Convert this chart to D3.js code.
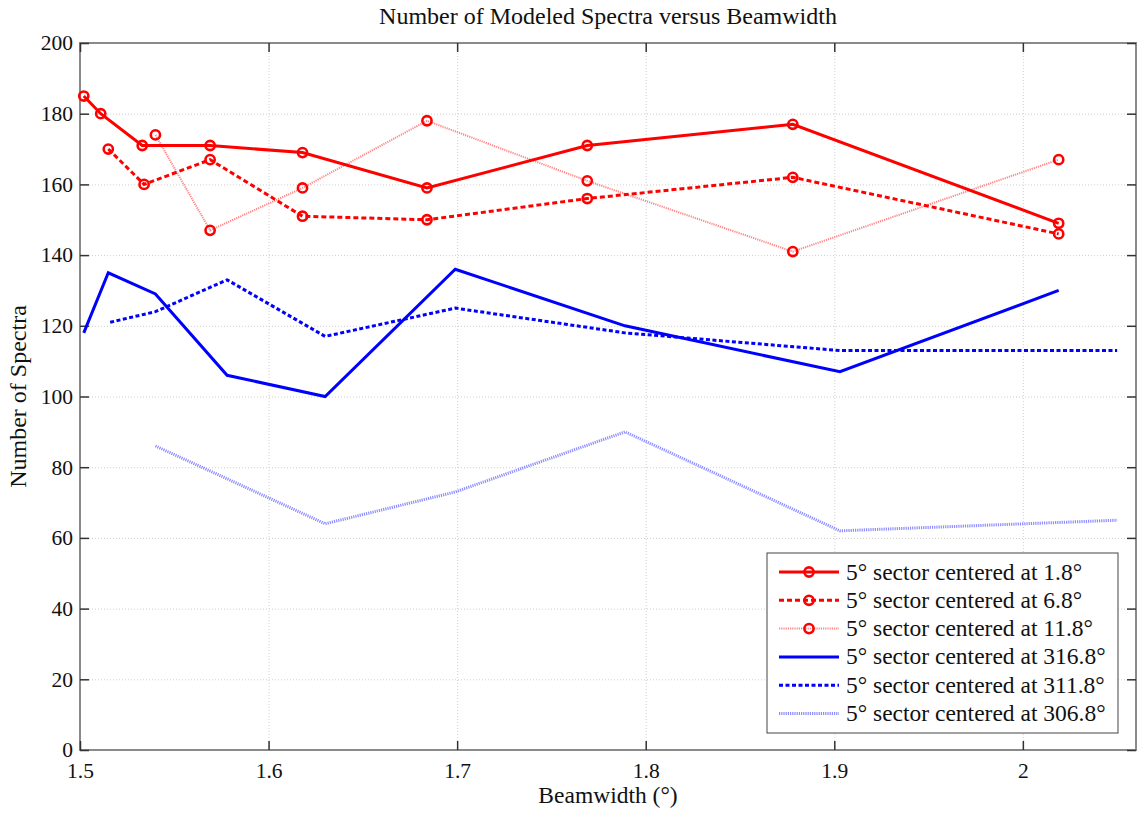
<!DOCTYPE html>
<html>
<head>
<meta charset="utf-8">
<script src="https://cdn.jsdelivr.net/npm/d3@7"></script>
<style>
  html, body { margin: 0; padding: 0; background: #fff; }
  svg { display: block; }
</style>
</head>
<body>
<svg id="chart" width="1141" height="813"></svg>
<script>
// Beamwidth (degrees) at which each sector was modeled, and the spectra counts
const bw_1_8   = [1.502, 1.511, 1.533, 1.569, 1.618, 1.684, 1.769, 1.878, 2.019];
const n_1_8    = [185, 180, 171, 171, 169, 159, 171, 177, 149];

const bw_6_8   = [1.515, 1.534, 1.569, 1.618, 1.684, 1.769, 1.878, 2.019];
const n_6_8    = [170, 160, 167, 151, 150, 156, 162, 146];

const bw_11_8  = [1.540, 1.569, 1.618, 1.684, 1.769, 1.878, 2.019];
const n_11_8   = [174, 147, 159, 178, 161, 141, 167];

const bw_316_8 = [1.502, 1.515, 1.540, 1.578, 1.630, 1.699, 1.789, 1.903, 2.019];
const n_316_8  = [118, 135, 129, 106, 100, 136, 120, 107, 130];

const bw_311_8 = [1.516, 1.540, 1.578, 1.630, 1.699, 1.789, 1.903, 2.050];
const n_311_8  = [121, 124, 133, 117, 125, 118, 113, 113];

const bw_306_8 = [1.540, 1.630, 1.699, 1.789, 1.903, 2.050];
const n_306_8  = [86, 64, 73, 90, 62, 65];

const seriesNames = [
  "5° sector centered at 1.8°",
  "5° sector centered at 6.8°",
  "5° sector centered at 11.8°",
  "5° sector centered at 316.8°",
  "5° sector centered at 311.8°",
  "5° sector centered at 306.8°"
];

const xTicks = [1.5, 1.6, 1.7, 1.8, 1.9, 2];
const yTicks = [0, 20, 40, 60, 80, 100, 120, 140, 160, 180, 200];

const FONT = "'Liberation Serif', 'Times New Roman', serif";

// Line appearance for each series
const styles = [
  { color: "#ff0000", width: 3,   dash: null,      marker: true },
  { color: "#ff0000", width: 3,   dash: "5,3",     marker: true },
  { color: "#ff8585", width: 2,   dash: "1.2,1",   marker: true },
  { color: "#0000ff", width: 3,   dash: null,      marker: false },
  { color: "#0000ff", width: 3,   dash: "4,2.5",   marker: false },
  { color: "#8c8cff", width: 3,   dash: "1.2,1",   marker: false }
];

const series = [
  [bw_1_8, n_1_8], [bw_6_8, n_6_8], [bw_11_8, n_11_8],
  [bw_316_8, n_316_8], [bw_311_8, n_311_8], [bw_306_8, n_306_8]
].map(([xs, ys], i) => ({
  name: seriesNames[i],
  style: styles[i],
  points: xs.map((x, j) => ({ x, y: ys[j] }))
}));

const svg = d3.select("#chart");
const L = 80, R = 1136, T = 43, B = 750;
const W = R - L, H = B - T;

const x = d3.scaleLinear().domain([1.5, 2.06]).range([L, R]);
const y = d3.scaleLinear().domain([0, 200]).range([B, T]);

// Dotted grid
const grid = svg.append("g");
grid.append("g").attr("transform", `translate(0,${B})`)
  .call(d3.axisBottom(x).tickValues(xTicks).tickSize(-H).tickFormat(""))
  .call(g => g.select(".domain").remove());
grid.append("g").attr("transform", `translate(${L},0)`)
  .call(d3.axisLeft(y).tickValues(yTicks).tickSize(-W).tickFormat(""))
  .call(g => g.select(".domain").remove());
grid.selectAll("line")
  .attr("stroke", "#cfcfcf").attr("stroke-width", 1).attr("stroke-dasharray", "1,2");

// Frame
svg.append("rect").attr("x", L).attr("y", T).attr("width", W).attr("height", H)
  .attr("fill", "none").attr("stroke", "#8a8a8a").attr("stroke-width", 2);

// Inward ticks on all four sides, labels on bottom and left
const tickLen = 9;
const styleAxis = g => {
  g.attr("font-family", null).attr("font-size", null);
  g.select(".domain").remove();
  g.selectAll(".tick line").attr("stroke", "#333").attr("stroke-width", 1.5);
  g.selectAll(".tick text").style("font-family", FONT)
    .style("font-size", "21.5px").attr("fill", "#111");
};
svg.append("g").attr("transform", `translate(0,${B})`)
  .call(d3.axisBottom(x).tickValues(xTicks).tickSizeInner(-tickLen).tickSizeOuter(0)
    .tickPadding(13).tickFormat(d3.format("~g")))
  .call(styleAxis);
svg.append("g").attr("transform", `translate(0,${T})`)
  .call(d3.axisTop(x).tickValues(xTicks).tickSizeInner(-tickLen).tickSizeOuter(0).tickFormat(""))
  .call(styleAxis);
svg.append("g").attr("transform", `translate(${L},0)`)
  .call(d3.axisLeft(y).tickValues(yTicks).tickSizeInner(-tickLen).tickSizeOuter(0).tickPadding(7))
  .call(styleAxis);
svg.append("g").attr("transform", `translate(${R},0)`)
  .call(d3.axisRight(y).tickValues(yTicks).tickSizeInner(-tickLen).tickSizeOuter(0).tickFormat(""))
  .call(styleAxis);

// Series lines and circle markers
const line = d3.line().x(d => x(d.x)).y(d => y(d.y));
const plot = svg.append("g");
series.slice().reverse().forEach(s => {
  plot.append("path").datum(s.points)
    .attr("d", line)
    .attr("fill", "none")
    .attr("stroke", s.style.color)
    .attr("stroke-width", s.style.width)
    .attr("stroke-dasharray", s.style.dash)
    .attr("stroke-linejoin", "miter");
});
series.forEach(s => {
  if (!s.style.marker) return;
  plot.append("g").selectAll("circle").data(s.points).join("circle")
    .attr("cx", d => x(d.x)).attr("cy", d => y(d.y)).attr("r", 4.6)
    .attr("fill", "none").attr("stroke", "#ff0000").attr("stroke-width", 2.6);
});

// Titles
const label = (sel, size) => sel.style("font-family", FONT).style("font-size", size + "px").attr("fill", "#111");
svg.append("text").attr("x", (L + R) / 2).attr("y", 24)
  .attr("text-anchor", "middle").call(label, 24)
  .text("Number of Modeled Spectra versus Beamwidth");
svg.append("text").attr("x", (L + R) / 2).attr("y", 803)
  .attr("text-anchor", "middle").call(label, 23.5)
  .text("Beamwidth (°)");
svg.append("text").attr("transform", `translate(26,${(T + B) / 2}) rotate(-90)`)
  .attr("text-anchor", "middle").call(label, 24)
  .text("Number of Spectra");

// Legend
const lg = svg.append("g");
const lgX = 767, lgY = 553, lgW = 351, lgH = 180, rowH = 28.3;
lg.append("rect").attr("x", lgX).attr("y", lgY).attr("width", lgW).attr("height", lgH)
  .attr("fill", "#fff").attr("stroke", "#444").attr("stroke-width", 1);
series.forEach((s, i) => {
  const cy = lgY + 19 + i * rowH;
  lg.append("line").attr("x1", lgX + 12).attr("x2", lgX + 72).attr("y1", cy).attr("y2", cy)
    .attr("stroke", s.style.color).attr("stroke-width", s.style.width)
    .attr("stroke-dasharray", s.style.dash);
  if (s.style.marker) {
    lg.append("circle").attr("cx", lgX + 42).attr("cy", cy).attr("r", 4.6)
      .attr("fill", "none").attr("stroke", "#ff0000").attr("stroke-width", 2.6);
  }
  lg.append("text").attr("x", lgX + 79).attr("y", cy + 7.5)
    .call(label, 23.5).text(s.name);
});
</script>
</body>
</html>
